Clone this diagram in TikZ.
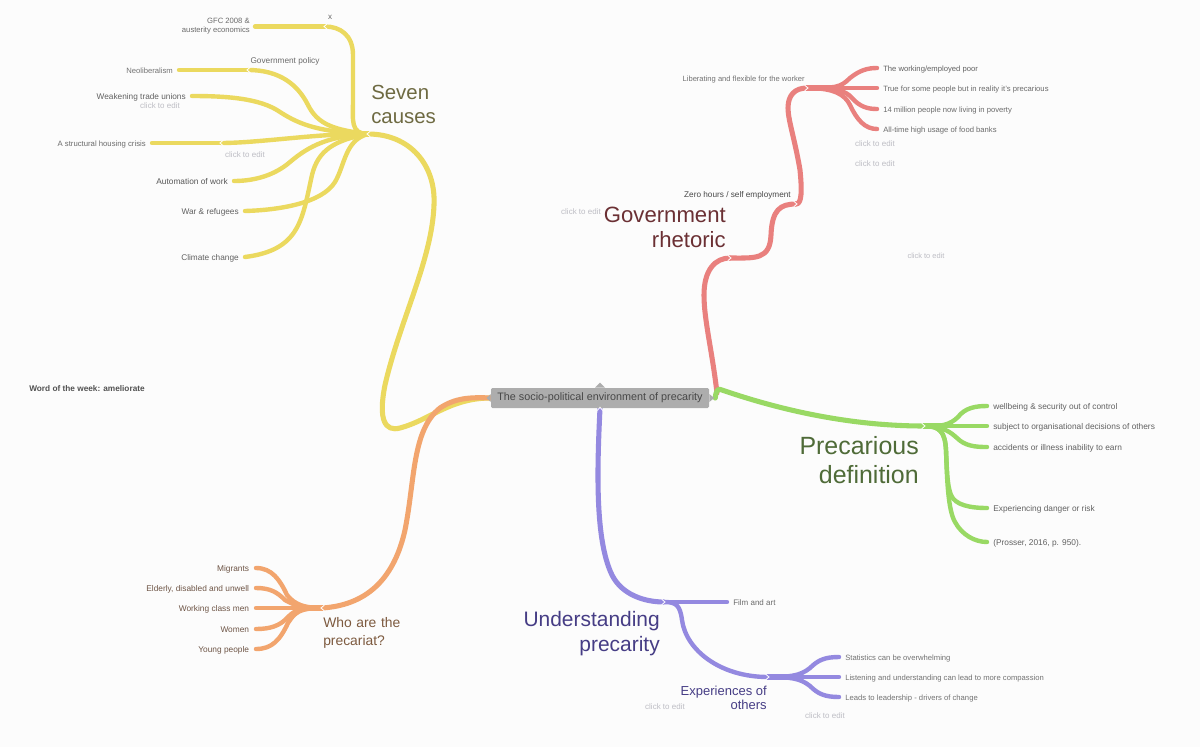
\documentclass[tikz,border=0pt]{standalone}
\usepackage{fontspec}
\setmainfont{Liberation Sans}
\usetikzlibrary{backgrounds}
\definecolor{ylw}{HTML}{EBD95F}
\definecolor{rd}{HTML}{E9807E}
\definecolor{grn}{HTML}{99D964}
\definecolor{prp}{HTML}{9489E0}
\definecolor{org}{HTML}{F2A56E}
\definecolor{hint}{HTML}{BDBDC4}
\definecolor{tyl}{HTML}{6E6A42}
\definecolor{trd}{HTML}{6B3034}
\definecolor{tgr}{HTML}{4F6B38}
\definecolor{tpr}{HTML}{463D85}
\definecolor{tor}{HTML}{7D5A3F}
\definecolor{sor}{HTML}{6E5546}
\newcommand{\fs}[2]{\fontsize{#1}{#2}\selectfont}
\tikzset{
  x=0.75pt,y=-0.75pt,
  lab/.style={inner xsep=4.5pt,inner ysep=0pt,text height=.72em,text depth=.2em,font=\fs{#1}{8}},
  lab/.default=5.75,
  multi/.style={inner sep=0pt,align=right},
  hinttext/.style={inner sep=0pt,text=hint,font=\fs{6}{8}},
  big/.style={multi,text=#1},
  trunk/.style={line width=3.8pt,line cap=round,line join=round,draw=#1},
  twig/.style={line width=3.3pt,line cap=round,line join=round,draw=#1},
  stem/.style={line width=5pt,line cap=round,draw=#1},
  chevl/.style={line width=.6pt,draw=white,line cap=round},
  pics/cl/.style={code={\draw[chevl] (2,-2.5) -- (-1,0) -- (2,2.5);}},
  pics/cr/.style={code={\draw[chevl] (-2,-2.5) -- (1,0) -- (-2,2.5);}},
  pics/cu/.style={code={\draw[chevl] (-2.5,2) -- (0,-1) -- (2.5,2);}},
}
\begin{document}
\begin{tikzpicture}
\useasboundingbox (0,0) rectangle (1200,747);
% centre
\node[fill=black!32,rounded corners=1pt,minimum width=163.5pt,minimum height=15pt,inner sep=0pt,text=black!72,font=\fs{8.1}{10}] (center) at (600,398) {\raisebox{-.5pt}{The socio-political environment of precarity}};
\fill[black!32] (center.north) ++(-5,0) -- ++(5,-5) -- ++(5,5) -- cycle;
\fill[black!32] (center.east) ++(0,-4) -- ++(5,4) -- ++(-5,4) -- cycle;
\fill[black!32] (center.west) ++(0,-4) -- ++(-4,4) -- ++(4,4) -- cycle;
\coordinate (jY) at (368,134);
\coordinate (jYs) at (338,134);
\coordinate (jX) at (325,26.5);
\coordinate (jGov) at (248,70);
\coordinate (jHous) at (221,143);
\coordinate (jC) at (717,393);
\coordinate (jR1) at (730,258);
\coordinate (jR2) at (796,204);
\coordinate (jR3) at (807,88);
\coordinate (jRs) at (834,88);
\coordinate (jG) at (924,426);
\coordinate (jGs) at (944,426);
\coordinate (jP1) at (664,602);
\coordinate (jP2) at (768,677);
\coordinate (jPs) at (796,677);
\coordinate (jO) at (322,608);
\coordinate (jOs) at (296,608);
% seven causes
\node[big=tyl,font=\fs{15.3}{18},text width=80pt,align=left,anchor=west] (seven) at (371,104) {Seven\\causes};
\node[lab=6,text=black!60,inner xsep=0pt] (xl) at (330,16) {x};
\node[multi,text=black!58,font=\fs{5.75}{7.2},anchor=east] (gfc) at (250,26) {GFC 2008 \&\\austerity economics};
\coordinate (gfcTip) at (255,26.5);
\node[lab=6.2,text=black!58,anchor=center,inner xsep=0pt] (govp) at (285,60) {Government policy};
\node[lab,text=black!55,anchor=east] (neo) at (179,70) {Neoliberalism};
\node[lab=6.2,text=black!62,anchor=east] (weak) at (192,96) {Weakening trade unions};
\node[hinttext] (h1) at (160,106) {click to edit};
\node[lab=5.8,text=black!58,anchor=east] (hous) at (152,143) {A structural housing crisis};
\node[hinttext] (h2) at (245,154.5) {click to edit};
\node[lab=6.25,text=black!66,anchor=east] (auto) at (234,181) {Automation of work};
\node[lab=6.2,text=black!62,anchor=east] (war) at (245,211) {War \& refugees};
\node[lab=6.2,text=black!62,anchor=east] (clim) at (245,257) {Climate change};
% red
\node[big=trd,font=\fs{16.6}{18.75},anchor=east] (gov) at (726,227) {Government\\rhetoric};
\node[hinttext] (h3) at (581,211.5) {click to edit};
\node[lab=6.17,text=black!72,anchor=east,inner xsep=0pt] (zero) at (791,194) {Zero hours / self employment};
\node[lab=5.68,text=black!55,anchor=east,inner xsep=0pt] (lib) at (805,78) {Liberating and flexible for the worker};
\node[lab,text=black!62,anchor=west] (r1) at (877,68) {The working/employed poor};
\node[lab,text=black!58,anchor=west] (r2) at (877,88) {True for some people but in reality it's precarious};
\node[lab,text=black!58,anchor=west] (r3) at (877,109) {14 million people now living in poverty};
\node[lab,text=black!58,anchor=west] (r4) at (877,129) {All-time high usage of food banks};
\node[hinttext] (h4) at (875,143.5) {click to edit};
\node[hinttext] (h5) at (875,163.5) {click to edit};
\node[hinttext,font=\fs{5.6}{8}] (h6) at (926,255.5) {click to edit};
% green
\node[big=tgr,font=\fs{18.7}{21.75},anchor=east] (prec) at (919,460) {Precarious\\definition};
\node[lab=6.25,text=black!62,anchor=west] (g1) at (987,406) {wellbeing \& security out of control};
\node[lab=6.25,text=black!62,anchor=west] (g2) at (987,426) {subject to organisational decisions of others};
\node[lab=6.25,text=black!62,anchor=west] (g3) at (987,447) {accidents or illness inability to earn};
\node[lab=6.25,text=black!62,anchor=west] (g4) at (987,508) {Experiencing danger or risk};
\node[lab=6.25,text=black!62,anchor=west] (g5) at (987,542) {(Prosser, 2016, p. 950).};
% purple
\node[big=tpr,font=\fs{15.7}{18.75},anchor=east] (und) at (660,634) {Understanding\\precarity};
\node[big=tpr,font=\fs{9.75}{11},anchor=east] (exp) at (767,698) {Experiences of\\others};
\node[lab=6,text=black!58,anchor=west] (film) at (727,602) {Film and art};
\node[lab,text=black!55,anchor=west] (p1) at (839,657) {Statistics can be overwhelming};
\node[lab,text=black!55,anchor=west] (p2) at (839,677) {Listening and understanding can lead to more compassion};
\node[lab,text=black!55,anchor=west] (p3) at (839,697) {Leads to leadership - drivers of change};
\node[hinttext] (h7) at (665,706.5) {click to edit};
\node[hinttext] (h8) at (825,715.5) {click to edit};
% orange
\node[big=tor,font=\fs{10.4}{13.5},text width=70pt,align=left,anchor=west] (who) at (323,633) {Who are the\\precariat?};
\node[lab=6.25,text=sor,anchor=east,inner xsep=5pt] (o1) at (256,568) {Migrants};
\node[lab=6.25,text=sor,anchor=east,inner xsep=5pt] (o2) at (256,588) {Elderly, disabled and unwell};
\node[lab=6.25,text=sor,anchor=east,inner xsep=5pt] (o3) at (256,608) {Working class men};
\node[lab=6.25,text=sor,anchor=east,inner xsep=5pt] (o4) at (256,629) {Women};
\node[lab=6.25,text=sor,anchor=east,inner xsep=5pt] (o5) at (256,649) {Young people};
% word of the week
\node[inner sep=0pt,anchor=west,text=black!68,font=\fs{6.2}{8}\bfseries] (word) at (29,388.5) {Word of the week: ameliorate};
\begin{scope}[on background layer]
\fill[black!1] (0,0) rectangle (1200,747);
% yellow
\draw[trunk=ylw] (jY) .. controls (410,134) and (436,165) .. (434,205) .. controls (432,260) and (400,320) .. (385,385) .. controls (378,420) and (385,432) .. (400,428) .. controls (430,420) and (450,398) .. (center.west);
\draw[stem=ylw] (jY) -- (jYs);
\draw[twig=ylw] (jY) .. controls (350,134) and (353,120) .. (353,100) -- (353,55) .. controls (353,35) and (340,26.5) .. (jX);
\draw[twig=ylw] (jX) -- (gfcTip);
\draw[twig=ylw] (jY) .. controls (335,130) and (318,125) .. (308,105) .. controls (298,85) and (280,70) .. (jGov);
\draw[twig=ylw] (jGov) -- (neo.east);
\draw[twig=ylw] (jY) .. controls (320,132) and (300,125) .. (280,112) .. controls (260,98) and (225,96) .. (weak.east);
\draw[twig=ylw] (jY) .. controls (320,133) and (260,143) .. (jHous);
\draw[twig=ylw] (jHous) -- (hous.east);
\draw[twig=ylw] (jY) .. controls (330,136) and (310,145) .. (290,162) .. controls (275,175) and (255,181) .. (auto.east);
\draw[twig=ylw] (jY) .. controls (345,140) and (345,165) .. (335,182) .. controls (322,203) and (280,210) .. (war.east);
\draw[twig=ylw] (jY) .. controls (335,140) and (318,150) .. (312,175) .. controls (302,220) and (300,250) .. (clim.east);
% red
\draw[trunk=rd] (jC) .. controls (712,350) and (704,320) .. (704,295) .. controls (704,270) and (715,258) .. (jR1);
\draw[trunk=rd] (jR1) .. controls (755,258) and (770,260) .. (771,235) .. controls (772,210) and (780,204) .. (jR2);
\draw[trunk=rd] (jR2) .. controls (802,204) and (802,190) .. (800,170) .. controls (795,140) and (788,120) .. (788,108) .. controls (788,95) and (795,88) .. (jR3);
\draw[stem=rd] (jR3) -- (jRs);
\draw[twig=rd] (jR3) .. controls (835,88) and (840,88) .. (850,78) .. controls (860,70) and (868,68) .. (r1.west);
\draw[twig=rd] (jR3) -- (r2.west);
\draw[twig=rd] (jR3) .. controls (835,88) and (845,90) .. (852,98) .. controls (860,107) and (868,109) .. (r3.west);
\draw[twig=rd] (jR3) .. controls (835,88) and (845,95) .. (850,105) .. controls (857,120) and (865,129) .. (r4.west);
% green
\draw[trunk=grn] (center.east) ++(6,0) coordinate (jS) .. controls (716,390) and (718,388) .. (722,390) .. controls (780,410) and (850,426) .. (jG);
\draw[stem=grn] (jG) -- (jGs);
\draw[twig=grn] (jG) .. controls (940,427) and (950,425) .. (958,417) .. controls (965,408) and (975,406) .. (g1.west);
\draw[twig=grn] (jG) -- (g2.west);
\draw[twig=grn] (jG) .. controls (945,427) and (950,432) .. (957,438) .. controls (965,446) and (975,447) .. (g3.west);
\draw[twig=grn] (jG) .. controls (940,426) and (945,432) .. (946,450) .. controls (947,470) and (947,485) .. (951,495) .. controls (955,505) and (970,508) .. (g4.west);
\draw[twig=grn] (jG) .. controls (940,426) and (945,432) .. (946,450) .. controls (947,480) and (948,510) .. (955,522) .. controls (962,535) and (975,542) .. (g5.west);
% purple
\draw[trunk=prp] (center.south) .. controls (597,470) and (595,540) .. (612,575) .. controls (622,595) and (645,602) .. (jP1);
\draw[twig=prp] (jP1) -- (film.west);
\draw[twig=prp] (jP1) .. controls (676,602) and (680,605) .. (682,620) .. controls (686,650) and (720,677) .. (jP2);
\draw[stem=prp] (jP2) -- (jPs);
\draw[twig=prp] (jP2) .. controls (790,677) and (800,676) .. (810,668) .. controls (818,660) and (825,657) .. (p1.west);
\draw[twig=prp] (jP2) -- (p2.west);
\draw[twig=prp] (jP2) .. controls (790,677) and (800,678) .. (810,686) .. controls (818,694) and (825,697) .. (p3.west);
% orange
\draw[trunk=org] (jO) .. controls (370,605) and (395,575) .. (405,530) .. controls (415,480) and (412,430) .. (440,408) .. controls (455,398) and (470,397) .. (center.west);
\draw[stem=org] (jO) -- (jOs);
\draw[twig=org] (jO) .. controls (305,608) and (295,605) .. (287,595) .. controls (280,580) and (272,568) .. (o1.east);
\draw[twig=org] (jO) .. controls (300,608) and (292,604) .. (285,600) .. controls (277,592) and (270,588) .. (o2.east);
\draw[twig=org] (jO) -- (o3.east);
\draw[twig=org] (jO) .. controls (300,608) and (295,610) .. (288,617) .. controls (280,626) and (270,629) .. (o4.east);
\draw[twig=org] (jO) .. controls (300,608) and (295,612) .. (288,623) .. controls (280,640) and (272,649) .. (o5.east);
\end{scope}
% chevrons
\pic at (jY) {cl};
\pic at (jX) {cl};
\pic at (jGov) {cl};
\pic at (jHous) {cl};
\pic at (jR1) {cr};
\pic at (jR2) {cr};
\pic at (jR3) {cr};
\pic at (jG) {cr};
\pic at (jP1) {cr};
\pic at (jP2) {cr};
\pic at (jO) {cl};
\pic at (center.south) {cu};
\end{tikzpicture}
\end{document}
